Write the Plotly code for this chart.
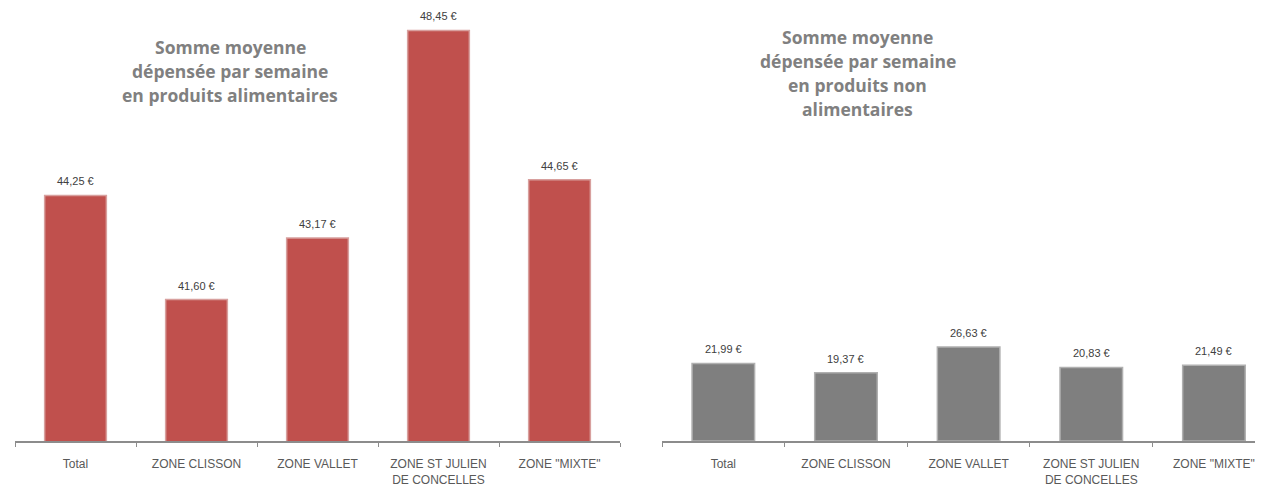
import plotly.graph_objects as go

zones = ["Total", "ZONE CLISSON", "ZONE VALLET", "ZONE ST JULIEN<br>DE CONCELLES", 'ZONE "MIXTE"']
alim = [44.25, 41.60, 43.17, 48.45, 44.65]
non_alim = [21.99, 19.37, 26.63, 20.83, 21.49]

title_alim = ["Somme moyenne", "dépensée par semaine", "en produits alimentaires"]
title_non_alim = ["Somme moyenne", "dépensée par semaine", "en produits non", "alimentaires"]


def euro(v):
    return f"{v:.2f}".replace(".", ",") + " €"


W, H = 1263, 488
OFF = 8  # marge du body de la page html

fig = go.Figure()
fig.add_trace(go.Bar(x=zones, y=alim, width=0.51,
                     marker=dict(color="#C0504D", line=dict(color="#D8A09E", width=1.5)),
                     xaxis="x", yaxis="y"))
fig.add_trace(go.Bar(x=zones, y=non_alim, width=0.51,
                     marker=dict(color="#7F7F7F", line=dict(color="#B0B0B0", width=1.5)),
                     xaxis="x2", yaxis="y2"))

# étiquettes de valeur au-dessus des barres
for xa, ya, vals in [("x", "y", alim), ("x2", "y2", non_alim)]:
    for z, v in zip(zones, vals):
        fig.add_annotation(x=z, y=v, xref=xa, yref=ya, text=euro(v), showarrow=False,
                           yanchor="bottom", yshift=6,
                           font=dict(size=11, color="#404040", family="Liberation Sans"))

xcommon = dict(type="category", showline=True, linecolor="#8C8C8C", linewidth=1.5,
               ticks="outside", tickson="boundaries", ticklen=4, tickcolor="#8C8C8C",
               ticklabelstandoff=11, showgrid=False,
               tickfont=dict(size=12, color="#595959", family="Liberation Sans"))
ycommon = dict(visible=False, showgrid=False, zeroline=False)

fig.update_layout(
    width=W, height=H,
    margin=dict(l=0, r=0, t=10 - OFF, b=47 + OFF),
    paper_bgcolor="white", plot_bgcolor="white",
    showlegend=False,
    xaxis=dict(domain=[(15 - OFF) / W, (620 - OFF) / W], range=[-0.5, 4.5], anchor="y", **xcommon),
    yaxis=dict(domain=[0, 1], range=[38, 48.97], anchor="x", **ycommon),
    xaxis2=dict(domain=[(662 - OFF) / W, (1263 - OFF) / W], range=[-0.5, 4.4], anchor="y2", **xcommon),
    yaxis2=dict(domain=[0, 1], range=[0, 122.1], anchor="x2", **ycommon),
)

# titres, une ligne par annotation pour garder l'interligne
plot_h = H - 57
for lines, cx, y0 in [(title_alim, 230, 47), (title_non_alim, 858, 37)]:
    for i, line in enumerate(lines):
        fig.add_annotation(text=f"<b>{line}</b>", xref="paper", yref="paper",
                           x=(cx - OFF) / W, y=1 - (y0 + 24 * i - 10) / plot_h,
                           xanchor="center", yanchor="middle", showarrow=False,
                           font=dict(size=17.5, color="#808080", family="Open Sans"))

fig.write_html("out.html")
